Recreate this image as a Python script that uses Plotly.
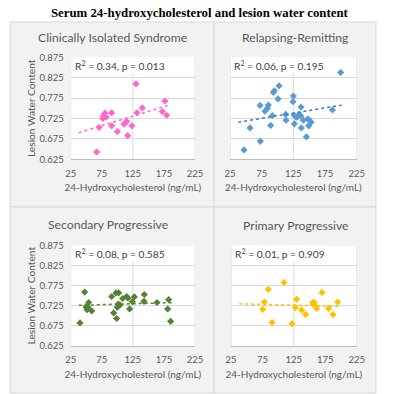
import numpy as np
import plotly.graph_objects as go

TITLE = "Serum 24-hydroxycholesterol and lesion water content"
PANEL_TITLES = ["Clinically Isolated Syndrome", "Relapsing-Remitting",
                "Secondary Progressive", "Primary Progressive"]
STATS = ["R<sup>2</sup> = 0.34, p = 0.013", "R<sup>2</sup> = 0.06, p = 0.195",
         "R<sup>2</sup> = 0.08, p = 0.585", "R<sup>2</sup> = 0.01, p = 0.909"]
X_TITLE = "24-Hydroxycholesterol (ng/mL)"
Y_TITLE = "Lesion Water Content"
X_TICKS = [25, 75, 125, 175, 225]
Y_TICKS = [0.625, 0.675, 0.725, 0.775, 0.825, 0.875]

cis_x = [130.1, 176.7, 172.4, 179.4, 140.2, 131.7, 90.9, 80.2, 77.5, 81.8,
         76.5, 90.9, 110.8, 115.1, 123.6, 100.1, 116.7, 70.6, 66.8]
cis_y = [0.810, 0.768, 0.742, 0.733, 0.751, 0.739, 0.739, 0.738, 0.732, 0.728,
         0.725, 0.707, 0.711, 0.718, 0.707, 0.693, 0.683, 0.703, 0.643]

rr_x = [199.7, 47.1, 72.9, 56.6, 72.4, 80.3, 84.0, 85.5, 91.8, 89.2, 93.4, 95.0,
        102.4, 100.8, 112.9, 113.4, 125.0, 124.5, 126.6, 126.1, 130.3, 132.9,
        137.1, 136.6, 137.6, 140.8, 145.5, 147.6, 150.3, 149.2, 152.9, 186.6,
        128.7, 134.4]
rr_y = [0.838, 0.648, 0.669, 0.702, 0.757, 0.743, 0.750, 0.758, 0.732, 0.708,
        0.789, 0.793, 0.805, 0.773, 0.735, 0.721, 0.780, 0.766, 0.712, 0.733,
        0.728, 0.731, 0.753, 0.732, 0.702, 0.721, 0.680, 0.724, 0.721, 0.707,
        0.716, 0.746, 0.729, 0.735]

sp_x = [40.0, 47.5, 49.7, 51.3, 53.9, 52.9, 58.8, 90.9, 94.1, 97.9, 102.2, 98.9,
        100.0, 101.6, 104.3, 108.6, 114.9, 117.1, 119.8, 124.2, 127.4, 143.5,
        142.9, 163.8, 182.6, 181.0, 185.8]
sp_y = [0.682, 0.759, 0.722, 0.715, 0.733, 0.721, 0.712, 0.748, 0.707, 0.757,
        0.757, 0.693, 0.721, 0.729, 0.727, 0.743, 0.748, 0.744, 0.717, 0.735,
        0.747, 0.753, 0.736, 0.733, 0.740, 0.717, 0.686]

pp_x = [109.4, 84.4, 78.1, 75.4, 90.3, 122.1, 129.5, 127.4, 137.5, 143.8, 155.0,
        157.6, 156.0, 161.3, 169.8, 180.4, 187.3, 194.8]
pp_y = [0.783, 0.766, 0.734, 0.716, 0.683, 0.680, 0.741, 0.720, 0.714, 0.703,
        0.733, 0.733, 0.728, 0.718, 0.758, 0.718, 0.703, 0.734]

SERIES = [(cis_x, cis_y), (rr_x, rr_y), (sp_x, sp_y), (pp_x, pp_y)]
MARKER_COLORS = ["#ff66cc", "#5b9bd5", "#548235", "#ffc000"]
TREND_COLORS = ["#ff66cc", "#4472c4", "#548235", "#ffc000"]
TREND_START = 38

W, H = 400, 394
FONT = "Lato"
GRID = "#d9d9d9"
TXT = "#595959"

def px_x(v):
    return v / W

def px_y(v):
    return 1 - v / H

panels = [(10, 214, 22, 207), (214, 376, 22, 207), (10, 214, 207, 393), (214, 376, 207, 393)]
plots = [(70.7, 195.0, 57.3, 159.3), (230.0, 356.7, 57.3, 159.3),
         (70.7, 195.0, 245.7, 345.7), (231.0, 356.7, 245.7, 345.7)]
title_pos = [(112, 37), (295, 37), (108, 224), (295, 225)]

fig = go.Figure()
layout = dict(width=W, height=H, margin=dict(l=0, r=0, t=0, b=0, pad=0, autoexpand=False),
              paper_bgcolor="white", plot_bgcolor="white", showlegend=False,
              hovermode=False,
              font=dict(family=FONT, color=TXT))
shapes = []
annotations = [dict(text="<b>" + TITLE + "</b>", x=0.5, y=px_y(12.5), xref="paper", yref="paper",
                    showarrow=False, font=dict(family="Liberation Serif", size=12.8, color="black"),
                    xanchor="center", yanchor="middle")]

for i in range(4):
    x0, x1, y0, y1 = panels[i]
    shapes.append(dict(type="rect", xref="paper", yref="paper", x0=px_x(x0), x1=px_x(x1),
                       y0=px_y(y1), y1=px_y(y0), fillcolor="#f2f2f2",
                       line=dict(color=GRID, width=1), layer="below"))

for i in range(4):
    n = "" if i == 0 else str(i + 1)
    xa, ya = "xaxis" + n, "yaxis" + n
    xr, yr = "x" + n, "y" + n
    px0, px1, py0, py1 = plots[i]
    layout[xa] = dict(domain=[px_x(px0), px_x(px1)], range=[25, 225], tickvals=X_TICKS,
                      showgrid=False, zeroline=False, showline=True, linecolor="#bfbfbf",
                      mirror=False, ticks="", ticklabelstandoff=5, automargin=False,
                      tickfont=dict(size=9.5, color=TXT, family=FONT),
                      title=dict(text=X_TITLE, font=dict(size=10, color=TXT, family=FONT), standoff=6),
                      anchor=yr, fixedrange=True)
    layout[ya] = dict(domain=[px_y(py1), px_y(py0)], range=[0.625, 0.875], tickvals=Y_TICKS,
                      tickformat=".3f", showgrid=True, gridcolor=GRID, gridwidth=1,
                      zeroline=False, showline=False, ticks="", ticklabelstandoff=6,
                      automargin=False,
                      tickfont=dict(size=9.5, color=TXT, family=FONT),
                      showticklabels=(i % 2 == 0), anchor=xr, fixedrange=True)
    if i % 2 == 0:
        layout[ya]["title"] = dict(text=Y_TITLE, font=dict(size=10.2, color=TXT, family=FONT), standoff=1)
    shapes.append(dict(type="rect", xref=xr + " domain", yref=yr + " domain", x0=0, x1=1, y0=0, y1=1,
                       fillcolor="white", line=dict(width=0), layer="below"))
    for gx in (25, 125, 225):
        shapes.append(dict(type="line", xref=xr, yref=yr + " domain", x0=gx, x1=gx, y0=0, y1=1,
                           line=dict(color=GRID, width=1), layer="below"))

    xs, ys = SERIES[i]
    fig.add_trace(go.Scatter(x=xs, y=ys, mode="markers", xaxis=xr, yaxis=yr,
                             marker=dict(symbol="diamond", size=5.5, color=MARKER_COLORS[i],
                                         line=dict(width=0))))
    slope, icpt = np.polyfit(xs, ys, 1)
    tx = np.array([TREND_START, max(xs) + 3])
    fig.add_trace(go.Scatter(x=tx, y=slope * tx + icpt, mode="lines", xaxis=xr, yaxis=yr,
                             line=dict(color=TREND_COLORS[i], width=1.5, dash="dot")))

    annotations.append(dict(text=STATS[i], xref=xr + " domain", yref=yr + " domain", x=0.015, y=0.92,
                            xanchor="left", yanchor="middle", showarrow=False, bgcolor="white",
                            font=dict(size=10.2, color="#404040", family=FONT)))
    tx_, ty_ = title_pos[i]
    annotations.append(dict(text=PANEL_TITLES[i], xref="paper", yref="paper", x=px_x(tx_), y=px_y(ty_),
                            xanchor="center", yanchor="middle", showarrow=False,
                            font=dict(size=12.2, color=TXT, family=FONT)))

layout["shapes"] = shapes
layout["annotations"] = annotations
fig.update_layout(**layout)
fig.write_html("out.html", config={"displayModeBar": False},
               post_script="document.body.style.margin='0';")
